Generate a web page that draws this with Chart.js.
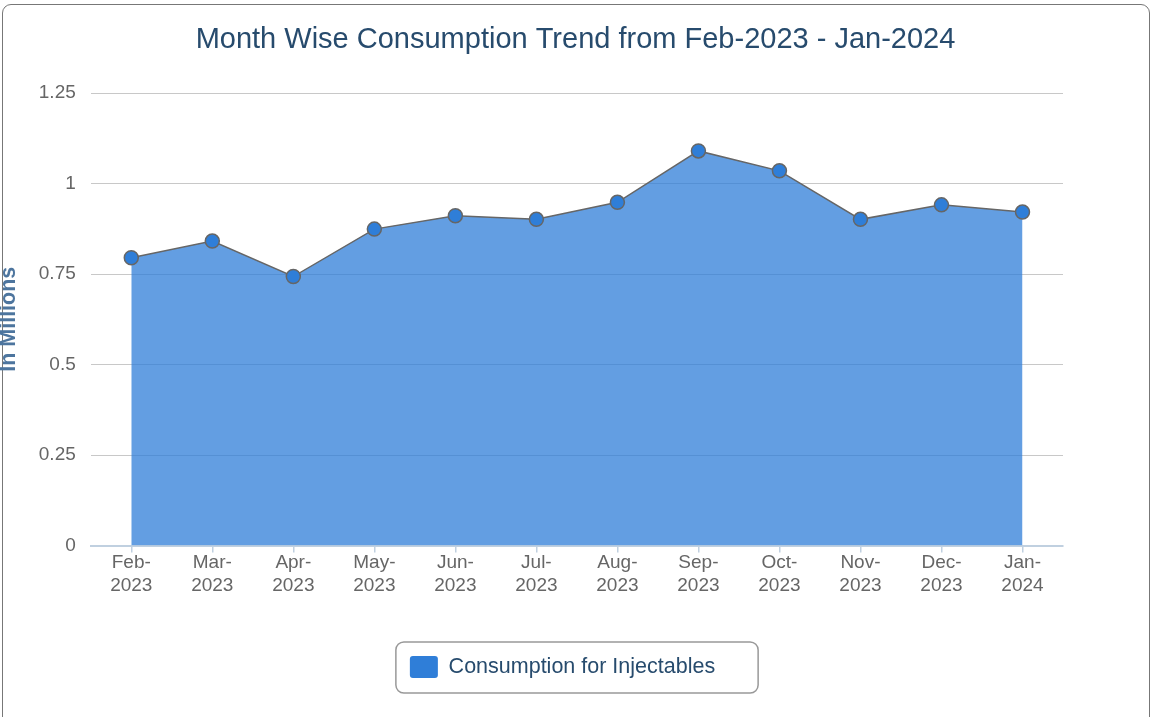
<!DOCTYPE html>
<html>
<head>
<meta charset="utf-8">
<script src="https://cdn.jsdelivr.net/npm/chart.js@4.4.0/dist/chart.umd.min.js"></script>
<style>
  html, body { margin: 0; padding: 0; background: #fff; overflow: hidden; }
  #frame {
    position: absolute; left: 2px; top: 4px; width: 1148px; height: 740px;
    border: 1.5px solid #777; border-radius: 9px; box-sizing: border-box;
  }
  #wrap { position: absolute; left: 0; top: 0; width: 1151px; height: 717px; }
</style>
</head>
<body>
<div id="frame"></div>
<div id="wrap"><canvas id="myChart"></canvas></div>
<script>
// months shown on the x axis (two lines each)
var months = ["Feb-2023", "Mar-2023", "Apr-2023", "May-2023", "Jun-2023", "Jul-2023",
              "Aug-2023", "Sep-2023", "Oct-2023", "Nov-2023", "Dec-2023", "Jan-2024"];
// consumption in millions
var consumption = [0.795, 0.841, 0.743, 0.874, 0.911, 0.901, 0.948, 1.090, 1.035, 0.901, 0.941, 0.921];
var yTicks = [0, 0.25, 0.5, 0.75, 1, 1.25];

var fontFamily = "'Liberation Sans', Arial, sans-serif";

// box drawn round the legend, plus shift the legend a bit left like the original
var legendFrame = {
    id: "legendFrame",
    afterLayout: function (chart) {
        chart.legend.left -= 13;
        chart.legend.right -= 13;
    },
    afterDraw: function (chart) {
        var lg = chart.legend;
        if (!lg.legendHitBoxes || !lg.legendHitBoxes.length) return;
        var hb = lg.legendHitBoxes[0];
        var ctx = chart.ctx;
        var cy = hb.top + hb.height / 2;
        var x = hb.left - 14, y = cy - 25;
        var w = hb.width + 57, h = 51;
        ctx.save();
        ctx.strokeStyle = "#999";
        ctx.lineWidth = 1.5;
        ctx.beginPath();
        ctx.roundRect(x, y, w, h, 8);
        ctx.stroke();
        ctx.restore();
    }
};

var ctx = document.getElementById("myChart").getContext("2d");
var myChart = new Chart(ctx, {
    type: "line",
    data: {
        labels: months.map(function (m) { return [m.split("-")[0] + "-", m.split("-")[1]]; }),
        datasets: [
            {
                label: "Consumption for Injectables",
                data: consumption,
                fill: "origin",
                backgroundColor: "rgba(47,126,216,0.75)",
                borderColor: "#666",
                borderWidth: 1.5,
                tension: 0,
                pointRadius: 7,
                pointBorderWidth: 1.5,
                pointBackgroundColor: "#2f7ed8",
                pointBorderColor: "#666",
            },
        ],
    },
    options: {
        responsive: true,
        maintainAspectRatio: false,
        animation: false,
        layout: { padding: { left: 0, right: 0, top: 0, bottom: 29 } },
        plugins: {
            title: {
                display: true,
                text: "Month Wise Consumption Trend from Feb-2023 - Jan-2024",
                color: "#274b6d",
                font: { family: fontFamily, size: 29, weight: "normal" },
                padding: { top: 22.6, bottom: 35.6 },
            },
            legend: {
                position: "bottom",
                labels: {
                    color: "#274b6d",
                    font: { family: fontFamily, size: 21.5 },
                    boxWidth: 28,
                    boxHeight: 22,
                    padding: 10,
                    generateLabels: function (chart) {
                        return [{
                            text: chart.data.datasets[0].label,
                            fillStyle: "#2f7ed8",
                            strokeStyle: "#2f7ed8",
                            lineWidth: 0,
                            borderRadius: 3,
                            datasetIndex: 0,
                            fontColor: "#274b6d",
                        }];
                    },
                },
            },
            tooltip: { enabled: false },
        },
        scales: {
            x: {
                offset: true,
                border: { display: true, color: "#c0d0e0", width: 2 },
                grid: { drawOnChartArea: false, drawTicks: true, tickLength: 7, color: "#c0d0e0", lineWidth: 1.5 },
                ticks: {
                    color: "#666",
                    font: { family: fontFamily, size: 19, lineHeight: 1.25 },
                    padding: -2,
                    maxRotation: 0,
                    autoSkip: false,
                },
                afterFit: function (axis) { axis.height += 50; },
            },
            y: {
                min: 0,
                max: 1.25,
                afterBuildTicks: function (axis) {
                    axis.ticks = yTicks.map(function (v) { return { value: v }; });
                },
                border: { display: false },
                grid: { color: "#c8c8c8", lineWidth: 1, drawTicks: false },
                ticks: {
                    color: "#666",
                    font: { family: fontFamily, size: 19 },
                    padding: 15,
                    callback: function (v) { return String(v); },
                },
                title: {
                    display: true,
                    text: "In Millions",
                    color: "#4d759e",
                    font: { family: fontFamily, size: 21.5, weight: "bold" },
                    padding: { top: -4, bottom: 2 },
                },
            },
            // empty axis on the right, keeps the plot clear of the frame
            yRight: {
                position: "right",
                display: true,
                grid: { display: false },
                border: { display: false },
                ticks: { display: false },
                afterFit: function (axis) { axis.width = 88; },
            },
        },
    },
    plugins: [legendFrame],
});
</script>
</body>
</html>
